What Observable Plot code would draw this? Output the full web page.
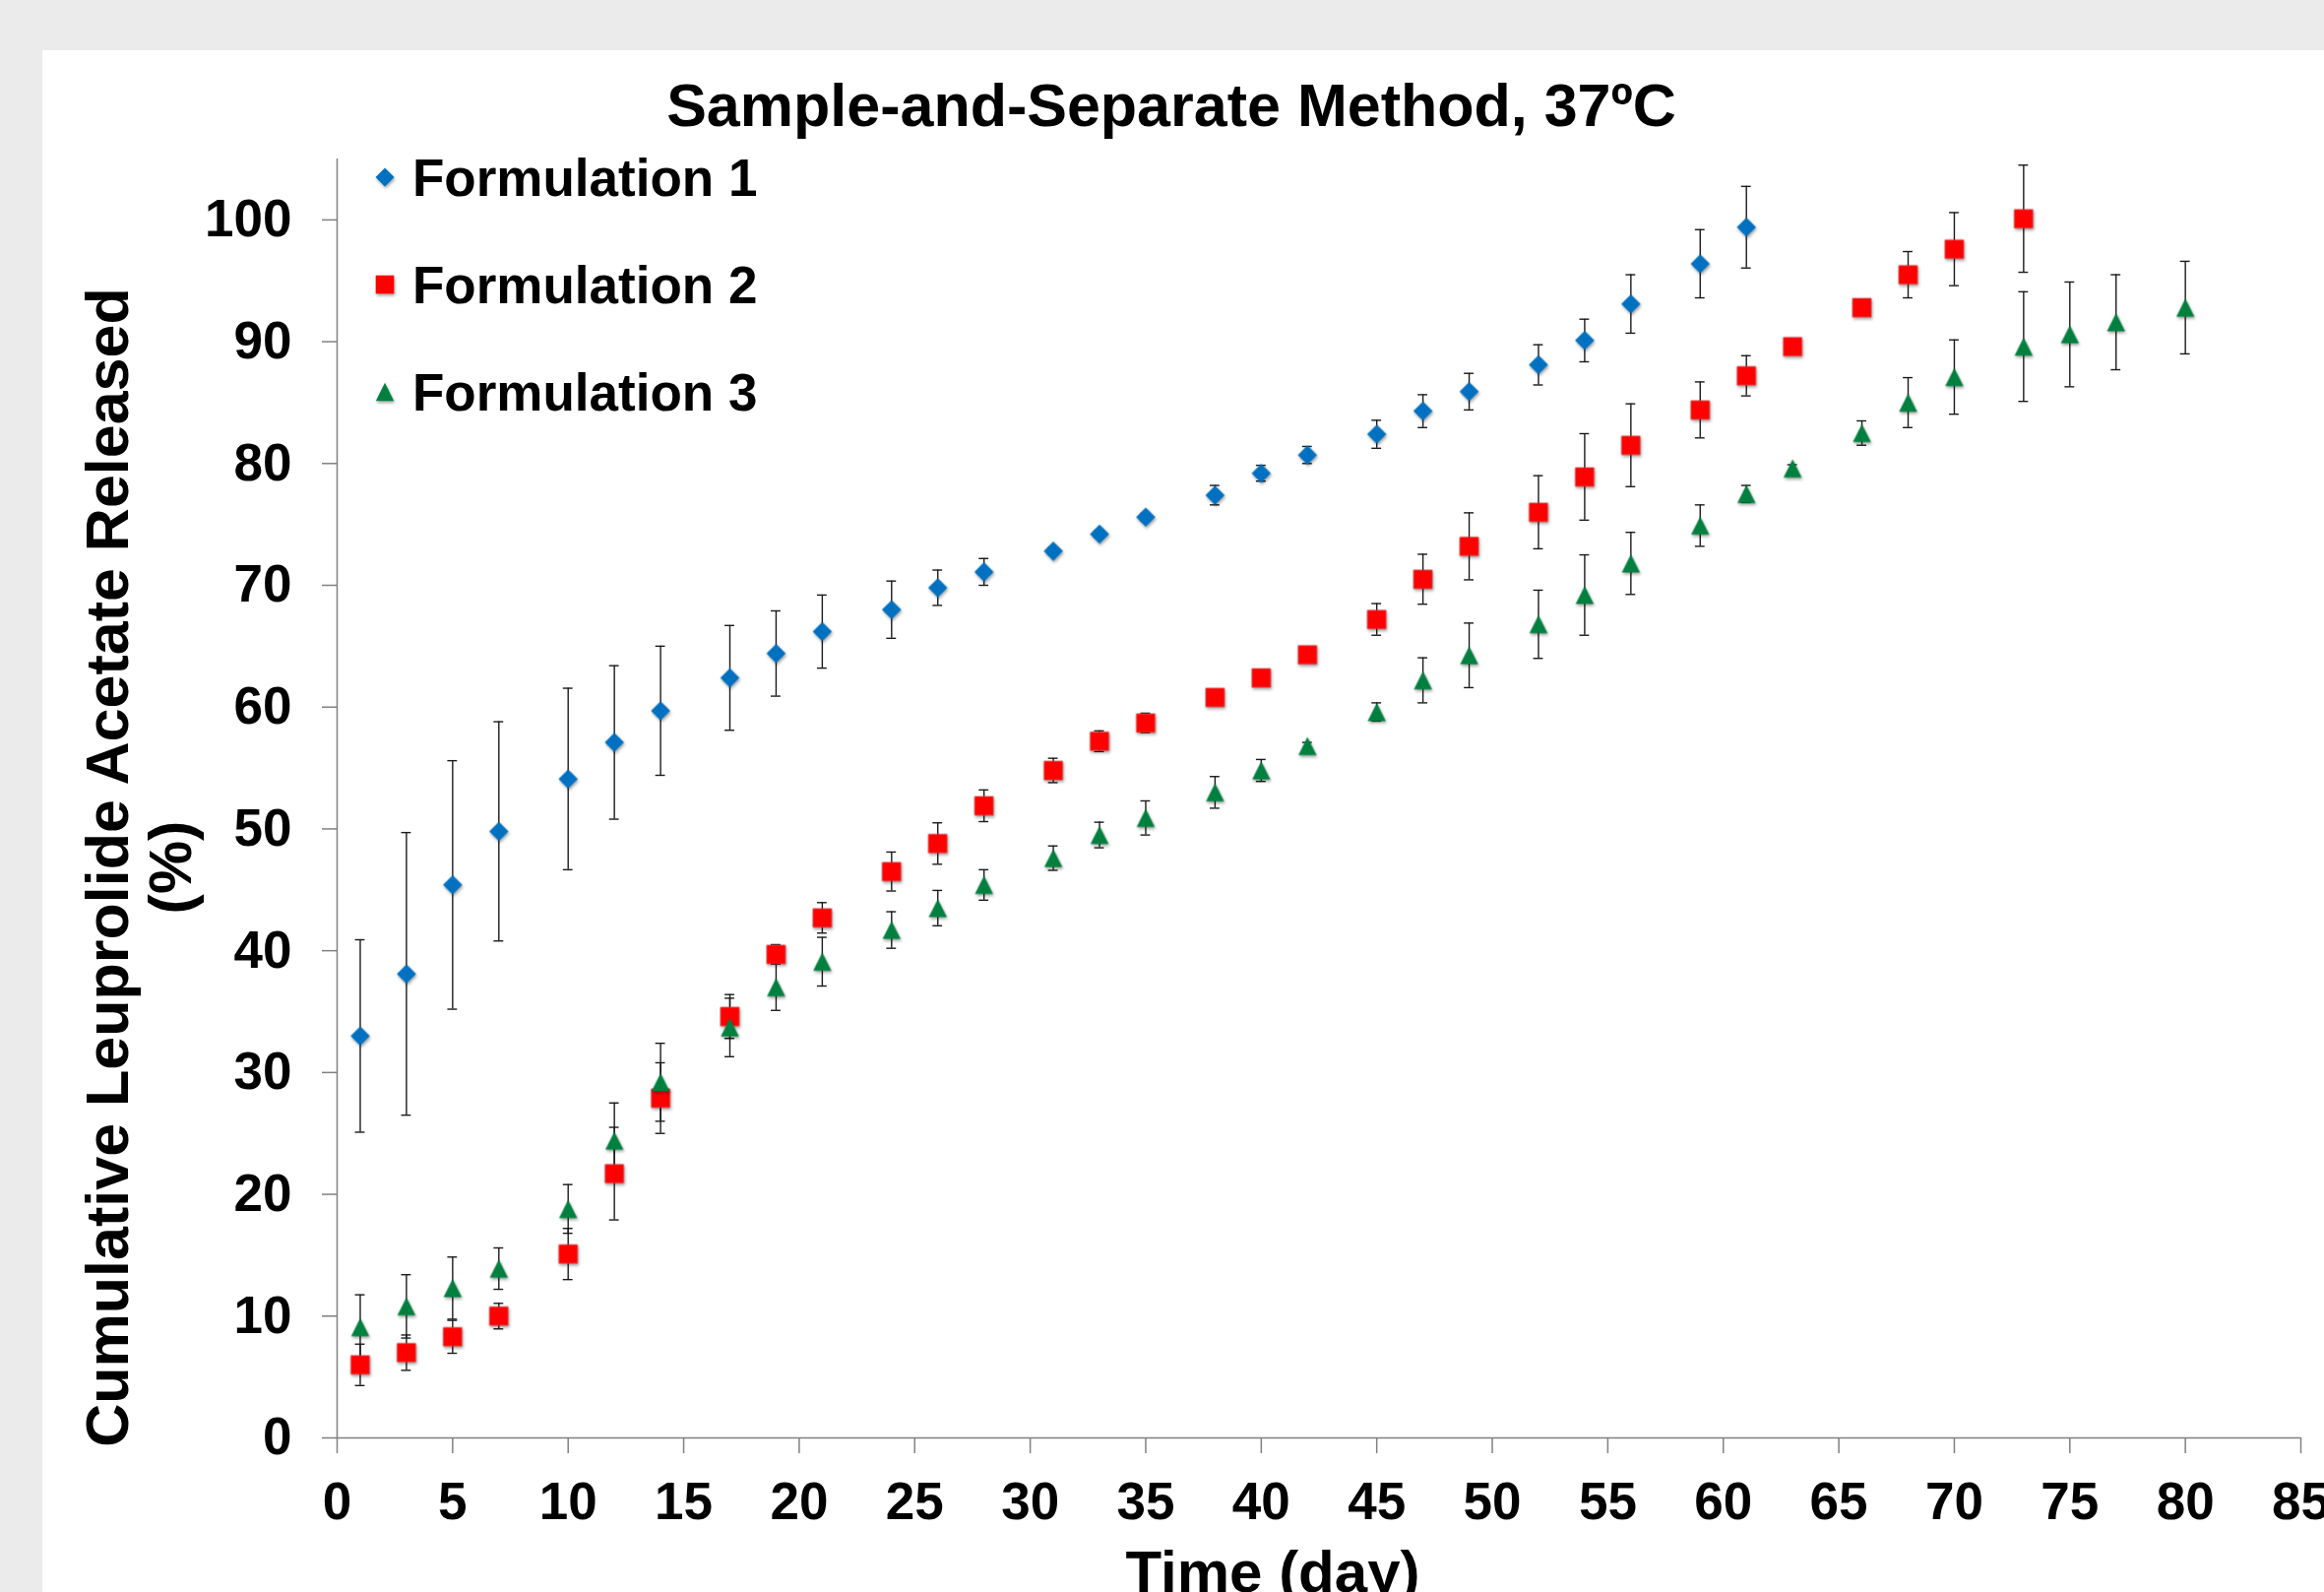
<!DOCTYPE html>
<html>
<head>
<meta charset="utf-8">
<script src="https://cdn.jsdelivr.net/npm/d3@7"></script>
<script src="https://cdn.jsdelivr.net/npm/@observablehq/plot@0.6"></script>
<style>
  html, body { margin: 0; padding: 0; }
  body { width: 2361px; height: 1617px; background: #ebebeb; position: relative; overflow: hidden;
         font-family: "Liberation Sans", Arial, sans-serif; font-weight: bold; color: #000; }
  #panel { position: absolute; left: 43px; top: 51px; right: 0; bottom: 0; background: #fff; }
  #chart { position: absolute; left: 0; top: 0; }
  .t { position: absolute; white-space: nowrap; line-height: 1; }
  .leg { position: absolute; }
  .leg svg { position: absolute; overflow: visible; filter: drop-shadow(1.5px 2px 1.5px rgba(0,0,0,0.35)); }
</style>
</head>
<body>
<div id="panel"></div>
<div id="chart"></div>
<div class="t" style="font-size:61px;left:1190px;top:77px;transform:translateX(-50%)">Sample-and-Separate Method, 37ºC</div>
<div class="t" style="font-size:60px;left:1293px;top:1567px;transform:translateX(-50%)">Time (day)</div>
<div class="t" style="font-size:61px;left:109px;top:881px;transform:translate(-50%,-50%) rotate(-90deg)">Cumulative Leuprolide Acetate Released</div>
<div class="t" style="font-size:61px;left:173px;top:881px;transform:translate(-50%,-50%) rotate(-90deg)">(%)</div>
<div id="legend"></div>
<script>
// ---- data ----
const seriesNames = ["Formulation 1", "Formulation 2", "Formulation 3"];
const seriesColors = ["#0070c0", "#ff0000", "#00803e"];

const days1 = [1,3,5,7,10,12,14,17,19,21,24,26,28,31,33,35,38,40,42,45,47,49,52,54,56,59,61];
const mean1 = [33.0,38.1,45.4,49.8,54.1,57.1,59.7,62.4,64.4,66.2,68.0,69.8,71.1,72.8,74.2,75.6,77.4,79.2,80.7,82.4,84.3,85.9,88.1,90.1,93.1,96.4,99.4];
const err1  = [7.9,11.6,10.2,9.0,7.45,6.3,5.3,4.3,3.5,3.0,2.35,1.45,1.1,0.3,0.3,0.3,0.8,0.65,0.7,1.15,1.35,1.5,1.65,1.75,2.4,2.8,3.35];

const days2 = [1,3,5,7,10,12,14,17,19,21,24,26,28,31,33,35,38,40,42,45,47,49,52,54,56,59,61,63,66,68,70,73];
const mean2 = [6.0,7.0,8.3,10.0,15.1,21.7,27.9,34.6,39.7,42.7,46.5,48.8,51.9,54.8,57.2,58.7,60.8,62.4,64.3,67.2,70.5,73.2,76.0,78.9,81.5,84.4,87.2,89.6,92.8,95.5,97.6,100.1];
const err2  = [1.7,1.45,1.35,1.05,2.1,3.8,2.9,1.8,0.8,1.25,1.6,1.7,1.3,1.0,0.85,0.8,0.3,0.3,0.3,1.3,2.05,2.75,3.0,3.55,3.4,2.3,1.65,0.4,0.3,1.9,3.0,4.4];

const days3 = [1,3,5,7,10,12,14,17,19,21,24,26,28,31,33,35,38,40,42,45,47,49,52,54,56,59,61,63,66,68,70,73,75,77,80];
const mean3 = [9.1,10.8,12.3,13.9,18.8,24.4,29.2,33.7,37.0,39.1,41.7,43.5,45.4,47.6,49.5,50.9,53.0,54.8,56.8,59.6,62.2,64.25,66.8,69.2,71.8,74.9,77.5,79.6,82.5,85.0,87.1,89.6,90.6,91.6,92.8];
const err3  = [2.65,2.6,2.55,1.7,2.0,3.1,3.2,2.4,1.9,2.0,1.5,1.45,1.25,1.0,1.05,1.4,1.3,0.9,0.3,0.75,1.85,2.65,2.8,3.3,2.55,1.7,0.7,0.3,1.0,2.05,3.05,4.5,4.3,3.9,3.8];

const xTicks = [0,5,10,15,20,25,30,35,40,45,50,55,60,65,70,75,80,85];
const yTicks = [0,10,20,30,40,50,60,70,80,90,100];

// ---- build ----
const mk = (days, vals, errs) => days.map((d, i) => ({day: d, v: vals[i], e: errs[i]}));
const s1 = mk(days1, mean1, err1), s2 = mk(days2, mean2, err2), s3 = mk(days3, mean3, err3);

// Excel-like triangle: as tall as it is wide, centred on its box
const boxTriangle = {
  draw(ctx, size) {
    const a = Math.sqrt(size) / 2;
    ctx.moveTo(0, -a);
    ctx.lineTo(a, a);
    ctx.lineTo(-a, a);
    ctx.closePath();
  }
};

const capHalf = 0.21;
const bars = (data) => [
  Plot.ruleX(data, {x: "day", y1: d => d.v - d.e, y2: d => d.v + d.e, stroke: "#1a1a1a", strokeWidth: 1.4}),
  Plot.ruleY(data, {y: d => d.v + d.e, x1: d => d.day - capHalf, x2: d => d.day + capHalf, stroke: "#1a1a1a", strokeWidth: 1.4}),
  Plot.ruleY(data, {y: d => d.v - d.e, x1: d => d.day - capHalf, x2: d => d.day + capHalf, stroke: "#1a1a1a", strokeWidth: 1.4})
];

const axisColor = "#808080";
const chart = Plot.plot({
  width: 2361,
  height: 1617,
  marginLeft: 342,
  marginRight: 24,
  marginTop: 161,
  marginBottom: 157,
  style: {background: "transparent", fontFamily: "'Liberation Sans', Arial, sans-serif", fontWeight: "bold", fontSize: "53px", color: "#000", overflow: "visible"},
  x: {domain: [0, 85], label: null},
  y: {domain: [0, 105], label: null},
  marks: [
    Plot.axisX({ticks: xTicks, tickSize: 16, tickPadding: 29, stroke: axisColor, strokeWidth: 1.5, fill: "#000", tickFormat: d => String(d), label: null}),
    Plot.axisY({ticks: yTicks, tickSize: 15, tickPadding: 31, stroke: axisColor, strokeWidth: 1.5, fill: "#000", tickFormat: d => String(d), label: null}),
    Plot.ruleY([0], {stroke: axisColor, strokeWidth: 1.5}),
    Plot.ruleX([0], {stroke: axisColor, strokeWidth: 1.5}),
    ...bars(s1), ...bars(s2), ...bars(s3),
    Plot.dot(s1, {x: "day", y: "v", symbol: "diamond2", r: 8.8, fill: seriesColors[0]}),
    Plot.dot(s2, {x: "day", y: "v", symbol: "square", r: 10.6, fill: seriesColors[1], stroke: "#d83a3a", strokeWidth: 0.8}),
    Plot.dot(s3, {x: "day", y: "v", symbol: boxTriangle, r: 10.4, fill: seriesColors[2]})
  ]
});
document.getElementById("chart").appendChild(chart);
d3.select(chart).selectAll('g[aria-label="dot"]').style("filter", "drop-shadow(1.5px 2px 1.5px rgba(0,0,0,0.35))");

// ---- legend ----
const legend = document.getElementById("legend");
const legendRows = [180, 289, 398];
const shapes = [
  '<polygon points="0,-9.5 9.5,0 0,9.5 -9.5,0" fill="' + seriesColors[0] + '"/>',
  '<rect x="-9.3" y="-9.3" width="18.6" height="18.6" fill="' + seriesColors[1] + '"/>',
  '<polygon points="0,-9.2 9.2,9.2 -9.2,9.2" fill="' + seriesColors[2] + '"/>'
];
seriesNames.forEach((name, i) => {
  const cy = legendRows[i];
  const item = document.createElement("div");
  item.className = "leg";
  item.innerHTML =
    '<svg width="1" height="1" style="left:391px;top:' + cy + 'px">' + shapes[i] + '</svg>' +
    '<div class="t" style="font-size:53px;left:419px;top:' + (cy - 26) + 'px">' + name + '</div>';
  legend.appendChild(item);
});
</script>
</body>
</html>
